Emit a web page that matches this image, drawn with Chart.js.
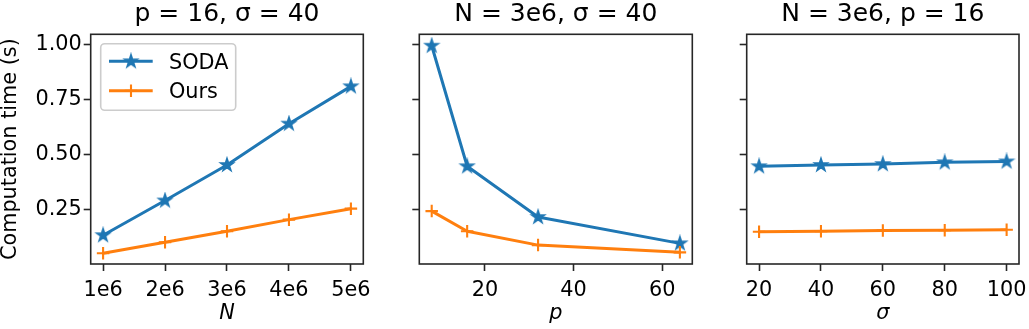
<!DOCTYPE html>
<html>
<head>
<meta charset="utf-8">
<script src="https://cdn.jsdelivr.net/npm/chart.js@4"></script>
<style>
  html, body { margin: 0; padding: 0; background: #fff; }
  #wrap { position: relative; width: 1029px; height: 329px; }
  #wrap canvas { position: absolute; left: 0; top: 0; }
</style>
</head>
<body>
<div id="wrap">
  <canvas id="c1" width="1029" height="329"></canvas>
  <canvas id="c2" width="1029" height="329"></canvas>
  <canvas id="c3" width="1029" height="329"></canvas>
</div>
<script>
// data
const seriesNames = ['SODA', 'Ours'];

const nValues = [1e6, 2e6, 3e6, 4e6, 5e6];
const nTickLabels = ['1e6', '2e6', '3e6', '4e6', '5e6'];
const sodaByN = [0.132, 0.290, 0.452, 0.640, 0.810];
const oursByN = [0.050, 0.100, 0.150, 0.203, 0.253];

const pValues = [8, 16, 32, 64];
const pTicks = [20, 40, 60];
const sodaByP = [0.995, 0.446, 0.215, 0.095];
const oursByP = [0.242, 0.150, 0.087, 0.054];

const sigmaValues = [20, 40, 60, 80, 100];
const sigmaTicks = [20, 40, 60, 80, 100];
const sodaBySigma = [0.446, 0.452, 0.456, 0.464, 0.468];
const oursBySigma = [0.148, 0.150, 0.153, 0.155, 0.157];

const yTicks = [0.25, 0.50, 0.75, 1.00];
const yTickLabels = ['0.25', '0.50', '0.75', '1.00'];

const BLUE = '#1f77b4';
const ORANGE = '#ff7f0e';
const INK = '#262626';
const FONT = 'DejaVu Sans';

function makeStar(color) {
    const c = document.createElement('canvas');
    c.width = 18; c.height = 18;
    const g = c.getContext('2d');
    const R = 6.3, r = R * 0.382;
    g.beginPath();
    for (let i = 0; i < 10; i++) {
        const a = -Math.PI / 2 + i * Math.PI / 5;
        const rad = i % 2 ? r : R;
        const x = 9 + Math.cos(a) * rad, y = 9 + Math.sin(a) * rad;
        if (i === 0) g.moveTo(x, y); else g.lineTo(x, y);
    }
    g.closePath();
    g.fillStyle = color;
    g.fill();
    g.lineWidth = 1.8;
    g.strokeStyle = color;
    g.stroke();
    return c;
}
const starImg = makeStar(BLUE);

// box around the plot area, like matplotlib spines
const frame = {
    id: 'frame',
    afterDraw(chart) {
        const a = chart.chartArea, ctx = chart.ctx;
        ctx.save();
        ctx.strokeStyle = INK;
        ctx.lineWidth = 1.6;
        ctx.strokeRect(a.left, a.top, a.right - a.left, a.bottom - a.top);
        ctx.restore();
    }
};

// legend drawn inside the first panel
const innerLegend = {
    id: 'innerLegend',
    afterDraw(chart, args, opts) {
        if (!opts.show) return;
        const ctx = chart.ctx;
        ctx.save();
        const x0 = 100.7, y0 = 43.7, w = 135, h = 66.6, rr = 4;
        ctx.beginPath();
        ctx.roundRect(x0, y0, w, h, rr);
        ctx.fillStyle = 'rgba(255,255,255,0.8)';
        ctx.fill();
        ctx.strokeStyle = '#cccccc';
        ctx.lineWidth = 1.6;
        ctx.stroke();
        const rows = [61.3, 90.7];
        chart.data.datasets.forEach((ds, i) => {
            const y = rows[i];
            ctx.strokeStyle = ds.borderColor;
            ctx.lineWidth = 3;
            ctx.beginPath();
            ctx.moveTo(109, y);
            ctx.lineTo(152.7, y);
            ctx.stroke();
            const cx = 131;
            if (i === 0) {
                ctx.drawImage(starImg, cx - 9, y - 9);
            } else {
                ctx.lineWidth = 2.1;
                ctx.beginPath();
                ctx.moveTo(cx - 6.25, y); ctx.lineTo(cx + 6.25, y);
                ctx.moveTo(cx, y - 6.25); ctx.lineTo(cx, y + 6.25);
                ctx.stroke();
            }
            ctx.fillStyle = '#000';
            ctx.font = '20.8px "' + FONT + '"';
            ctx.textBaseline = 'alphabetic';
            ctx.fillText(ds.label, 169, y + 7.6);
        });
        ctx.restore();
    }
};

function makeDatasets(xs, soda, ours) {
    return [
        {
            label: seriesNames[0],
            data: xs.map((x, i) => ({ x: x, y: soda[i] })),
            borderColor: BLUE,
            backgroundColor: BLUE,
            borderWidth: 3,
            borderJoinStyle: 'round',
            pointStyle: starImg,
            pointRadius: 7,
            order: 1
        },
        {
            label: seriesNames[1],
            data: xs.map((x, i) => ({ x: x, y: ours[i] })),
            borderColor: ORANGE,
            backgroundColor: ORANGE,
            borderWidth: 3,
            borderJoinStyle: 'round',
            pointStyle: 'cross',
            pointRadius: 6.25,
            pointBorderWidth: 2.1,
            order: 0
        }
    ];
}

const tickGrid = {
    drawOnChartArea: false,
    drawTicks: true,
    tickLength: 7,
    tickWidth: 1.6,
    tickColor: INK
};

function makePanel(id, cfg) {
    new Chart(document.getElementById(id), {
        type: 'line',
        data: { datasets: makeDatasets(cfg.xs, cfg.soda, cfg.ours) },
        plugins: [frame, innerLegend],
        options: {
            responsive: false,
            animation: false,
            events: [],
            layout: {
                padding: { left: cfg.left - cfg.yWidth, right: 1029 - cfg.right, top: 0, bottom: 0 }
            },
            plugins: {
                legend: { display: false },
                tooltip: { enabled: false },
                innerLegend: { show: cfg.legend },
                title: {
                    display: true,
                    text: cfg.title,
                    fullSize: false,
                    color: '#000',
                    font: { family: FONT, size: 25, weight: 'normal', lineHeight: 1 },
                    padding: { top: 2, bottom: 7.3 }
                }
            },
            scales: {
                x: {
                    type: 'linear',
                    min: cfg.xMin,
                    max: cfg.xMax,
                    border: { display: false },
                    grid: tickGrid,
                    afterBuildTicks: s => { s.ticks = cfg.xTicks.map(v => ({ value: v })); },
                    afterFit: s => { s.height = 65; s.paddingLeft = 0; s.paddingRight = 0; },
                    ticks: {
                        color: '#000',
                        padding: 7,
                        maxRotation: 0,
                        autoSkip: false,
                        font: { family: FONT, size: 20.8, lineHeight: 1.2 },
                        callback: (v, i) => cfg.xLabels[i]
                    },
                    title: {
                        display: true,
                        text: cfg.xTitle,
                        color: '#000',
                        font: { family: FONT, size: 20.8, style: 'italic', lineHeight: 1 },
                        padding: { top: 0, bottom: 4.5 }
                    }
                },
                y: {
                    type: 'linear',
                    min: 0.001,
                    max: 1.047,
                    border: { display: false },
                    grid: tickGrid,
                    afterBuildTicks: s => { s.ticks = yTicks.map(v => ({ value: v })); },
                    afterFit: s => { s.width = cfg.yWidth; },
                    ticks: {
                        display: cfg.yLabels,
                        color: '#000',
                        padding: 2,
                        font: { family: FONT, size: 20.8 },
                        callback: (v, i) => yTickLabels[i]
                    },
                    title: {
                        display: cfg.yLabels,
                        text: 'Computation time (s)',
                        color: '#000',
                        font: { family: FONT, size: 20.8, lineHeight: 1 },
                        padding: { top: 0, bottom: 0 }
                    }
                }
            }
        }
    });
}

makePanel('c1', {
    xs: nValues, soda: sodaByN, ours: oursByN,
    xMin: 0.8e6, xMax: 5.2e6, xTicks: nValues, xLabels: nTickLabels,
    xTitle: 'N', title: 'p = 16, σ = 40',
    left: 90.7, right: 363.3, yWidth: 90.7, yLabels: true, legend: true
});
makePanel('c2', {
    xs: pValues, soda: sodaByP, ours: oursByP,
    xMin: 5.2, xMax: 66.8, xTicks: pTicks, xLabels: pTicks.map(String),
    xTitle: 'p', title: 'N = 3e6, σ = 40',
    left: 419.3, right: 692.3, yWidth: 7, yLabels: false, legend: false
});
makePanel('c3', {
    xs: sigmaValues, soda: sodaBySigma, ours: oursBySigma,
    xMin: 16, xMax: 104, xTicks: sigmaTicks, xLabels: sigmaTicks.map(String),
    xTitle: 'σ', title: 'N = 3e6, p = 16',
    left: 746.7, right: 1021, yWidth: 7, yLabels: false, legend: false
});
</script>
</body>
</html>
